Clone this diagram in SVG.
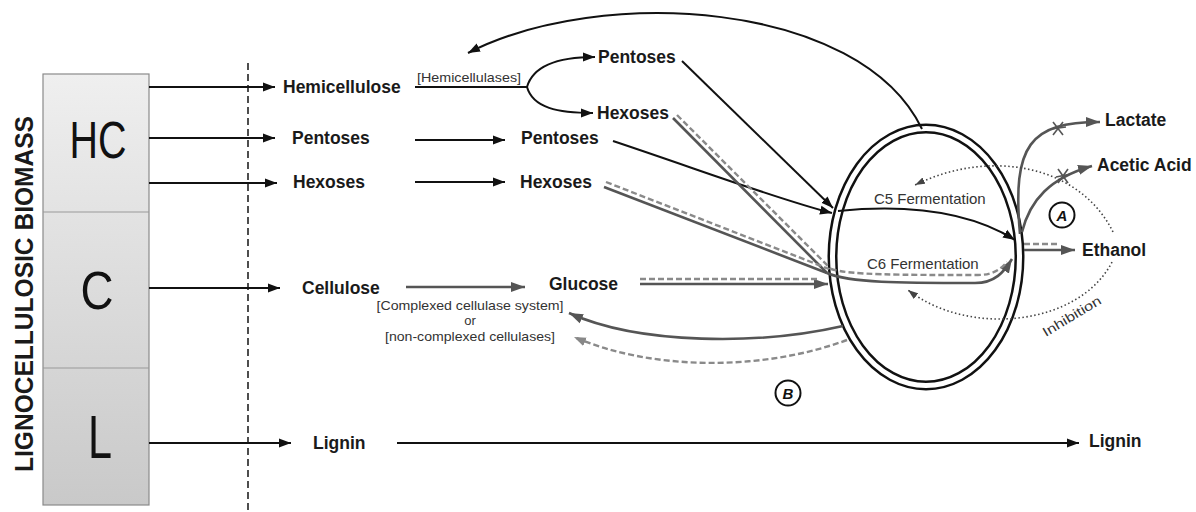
<svg xmlns="http://www.w3.org/2000/svg" width="1196" height="512" viewBox="0 0 1196 512">
<defs>
<linearGradient id="boxg" x1="0" y1="0" x2="0" y2="1">
<stop offset="0" stop-color="#efefef"/>
<stop offset="1" stop-color="#c9c9c9"/>
</linearGradient>
<marker id="ab" markerUnits="userSpaceOnUse" markerWidth="13" markerHeight="10" refX="12" refY="5" orient="auto"><path d="M0,0.5 L12,5 L0,9.5 z" fill="#111"/></marker>
<marker id="ag" markerUnits="userSpaceOnUse" markerWidth="15" markerHeight="11" refX="14" refY="5.5" orient="auto"><path d="M0,0.5 L14,5.5 L0,10.5 z" fill="#555"/></marker>
<marker id="agl" markerUnits="userSpaceOnUse" markerWidth="13" markerHeight="10" refX="12" refY="5" orient="auto"><path d="M0,0.5 L12,5 L0,9.5 z" fill="#888"/></marker>
<marker id="ad" markerUnits="userSpaceOnUse" markerWidth="11" markerHeight="8" refX="10" refY="4" orient="auto"><path d="M0,0.5 L10,4 L0,7.5 z" fill="#444"/></marker>
</defs>
<style>
.n{font-family:"Liberation Sans",Arial,sans-serif;font-weight:bold;font-size:17.5px;fill:#1a1a1a}
.s{font-family:"Liberation Sans",Arial,sans-serif;font-size:13px;fill:#333}
.f{font-family:"Liberation Sans",Arial,sans-serif;font-size:15px;fill:#333}
.big{font-family:"Liberation Sans",Arial,sans-serif;fill:#111;text-anchor:middle}
.k{fill:none;stroke:#111;stroke-width:2}
.g{fill:none;stroke:#555;stroke-width:2.6}
.gd{fill:none;stroke:#8a8a8a;stroke-width:2.4;stroke-dasharray:6 3}
.dot{fill:none;stroke:#444;stroke-width:1.6;stroke-dasharray:1.5 2.5}
.star{stroke:#555;stroke-width:1.6}
</style>
<rect width="1196" height="512" fill="#fff"/>

<g id="biomass">
<rect x="43" y="74" width="106" height="431" fill="url(#boxg)" stroke="#8a8a8a" stroke-width="1.2"/>
<line x1="43" y1="212" x2="149" y2="212" stroke="#999" stroke-width="1"/>
<line x1="43" y1="368" x2="149" y2="368" stroke="#999" stroke-width="1"/>
<text class="big" x="98" y="158" font-size="51" textLength="57" lengthAdjust="spacingAndGlyphs">HC</text>
<text class="big" x="97" y="309" font-size="54" textLength="33" lengthAdjust="spacingAndGlyphs">C</text>
<text class="big" x="100" y="458" font-size="62" textLength="24" lengthAdjust="spacingAndGlyphs">L</text>
<text transform="translate(33,294) rotate(-90)" font-family="Liberation Sans,Arial,sans-serif" font-weight="bold" font-size="26" fill="#1a1a1a" text-anchor="middle" textLength="356" lengthAdjust="spacingAndGlyphs">LIGNOCELLULOSIC BIOMASS</text>
</g>

<line x1="248" y1="63" x2="248" y2="512" stroke="#222" stroke-width="1.6" stroke-dasharray="7 4"/>

<g id="n-hemicellulose"><text class="n" x="283" y="93">Hemicellulose</text></g>
<g id="n-pentoses1"><text class="n" x="292" y="144">Pentoses</text></g>
<g id="n-hexoses1"><text class="n" x="293" y="188">Hexoses</text></g>
<g id="n-cellulose"><text class="n" x="302" y="294">Cellulose</text></g>
<g id="n-lignin1"><text class="n" x="313" y="449">Lignin</text></g>
<g id="n-pentoses-top"><text class="n" x="598" y="63">Pentoses</text></g>
<g id="n-hexoses-top"><text class="n" x="597" y="119">Hexoses</text></g>
<g id="n-pentoses2"><text class="n" x="521" y="144">Pentoses</text></g>
<g id="n-hexoses2"><text class="n" x="520" y="188">Hexoses</text></g>
<g id="n-glucose"><text class="n" x="549" y="290">Glucose</text></g>
<g id="n-enzymes">
<text class="s" x="470" y="310" text-anchor="middle" textLength="187" lengthAdjust="spacingAndGlyphs">[Complexed cellulase system]</text>
<text class="s" x="470" y="325" text-anchor="middle">or</text>
<text class="s" x="470" y="341" text-anchor="middle" textLength="170" lengthAdjust="spacingAndGlyphs">[non-complexed cellulases]</text>
</g>
<g id="n-hemicellulases"><text class="s" x="417" y="82" textLength="104" lengthAdjust="spacingAndGlyphs">[Hemicellulases]</text></g>
<g id="n-lactate"><text class="n" x="1105" y="126">Lactate</text></g>
<g id="n-acetic"><text class="n" x="1097" y="171">Acetic Acid</text></g>
<g id="n-ethanol"><text class="n" x="1082" y="256">Ethanol</text></g>
<g id="n-lignin2"><text class="n" x="1089" y="447">Lignin</text></g>

<g id="n-cell">
<ellipse cx="926" cy="257" rx="93.5" ry="128.5" fill="none" stroke="#111" stroke-width="10"/>
<ellipse cx="926" cy="257" rx="93.5" ry="128.5" fill="none" stroke="#fff" stroke-width="5"/>
</g>

<g id="connectors">
<line class="k" x1="149" y1="87" x2="275" y2="87" marker-end="url(#ab)"/>
<line class="k" x1="149" y1="138" x2="275" y2="138" marker-end="url(#ab)"/>
<line class="k" x1="149" y1="183" x2="277" y2="183" marker-end="url(#ab)"/>
<line class="k" x1="149" y1="288" x2="280" y2="288" marker-end="url(#ab)"/>
<line class="k" x1="149" y1="443" x2="291" y2="443" marker-end="url(#ab)"/>
<line class="k" x1="415" y1="140" x2="505" y2="140" marker-end="url(#ab)"/>
<line class="k" x1="415" y1="182" x2="505" y2="182" marker-end="url(#ab)"/>
<line class="k" x1="397" y1="443" x2="1079" y2="443" marker-end="url(#ab)"/>
<line class="k" x1="415" y1="87" x2="527" y2="87"/>
<path class="k" d="M527 87 C533 66 558 57 595 57" marker-end="url(#ab)"/>
<path class="k" d="M527 87 C533 108 558 113 593 113" marker-end="url(#ab)"/>
<path class="k" d="M922 129 C860 0 600 -15 468 53" marker-end="url(#ab)"/>
<line class="k" x1="682" y1="61" x2="833" y2="208" marker-end="url(#ab)"/>
<path class="k" d="M613 141 C700 170 780 200 832 213" marker-end="url(#ab)"/>
<line class="g" x1="406" y1="287" x2="525" y2="287" marker-end="url(#ag)"/>

<line class="g" x1="673" y1="118" x2="827" y2="273"/>
<line class="gd" x1="677" y1="115" x2="831" y2="269"/>
<line class="g" x1="604" y1="187" x2="827" y2="273"/>
<line class="gd" x1="606" y1="182" x2="829" y2="269"/>
<line class="g" x1="640" y1="284" x2="828" y2="284" marker-end="url(#ag)"/>
<line class="gd" x1="640" y1="279" x2="818" y2="279"/>

<path class="k" d="M838 211 C920 203 975 215 1015 240" marker-end="url(#ab)"/>
<path class="g" d="M827 273 C850 283 900 283 975 283 C995 283 1004 272 1012 259" marker-end="url(#ag)"/>
<path class="gd" d="M831 269 C850 275 900 275 978 275 C994 275 1002 268 1007 262"/>

<line class="g" x1="1024" y1="250" x2="1075" y2="250" marker-end="url(#ag)"/>
<line class="gd" x1="1024" y1="244" x2="1058" y2="244"/>
<path class="g" d="M1020 234 C1012 145 1030 122 1100 122" marker-end="url(#ag)"/>
<path class="g" d="M1022 232 C1030 200 1050 178 1092 166" marker-end="url(#ag)"/>

<path class="g" d="M843 326 C760 345 640 345 569 313" marker-end="url(#ag)"/>
<path class="gd" d="M847 340 C760 372 650 370 574 337" marker-end="url(#agl)"/>

<path class="dot" d="M1113 232 C1080 165 990 148 915 185" marker-end="url(#ad)"/>
<path class="dot" d="M1112 262 C1080 325 970 338 908 290" marker-end="url(#ad)"/>
</g>

<g id="n-stars">
<line class="star" x1="1053" y1="122" x2="1063" y2="135"/>
<line class="star" x1="1063" y1="122" x2="1053" y2="135"/>
<line class="star" x1="1051" y1="129" x2="1066" y2="127"/>
<line class="star" x1="1058" y1="169" x2="1068" y2="183"/>
<line class="star" x1="1068" y1="169" x2="1058" y2="183"/>
<line class="star" x1="1056" y1="177" x2="1071" y2="174"/>
</g>

<g id="n-labels">
<text class="f" x="874" y="204">C5 Fermentation</text>
<text class="f" x="867" y="269">C6 Fermentation</text>
<text class="s" transform="translate(1074,320) rotate(-31)" text-anchor="middle" font-size="15" textLength="66" lengthAdjust="spacingAndGlyphs">Inhibition</text>
</g>
<g id="n-A">
<circle cx="1062" cy="215" r="12.5" fill="#fff" stroke="#111" stroke-width="2"/>
<text x="1062" y="220.5" text-anchor="middle" font-family="Liberation Sans,Arial,sans-serif" font-style="italic" font-weight="bold" font-size="15" fill="#111">A</text>
</g>
<g id="n-B">
<circle cx="788" cy="393" r="12.5" fill="#fff" stroke="#111" stroke-width="2"/>
<text x="788" y="398.5" text-anchor="middle" font-family="Liberation Sans,Arial,sans-serif" font-style="italic" font-weight="bold" font-size="15" fill="#111">B</text>
</g>
</svg>
